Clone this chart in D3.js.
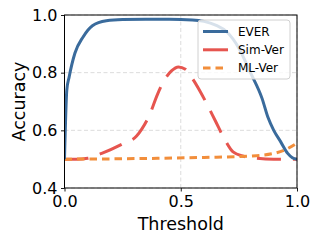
<!DOCTYPE html>
<html>
<head>
<meta charset="utf-8">
<script src="https://cdn.jsdelivr.net/npm/d3@7"></script>
<style>
  body { margin: 0; background: #fff; }
  text { font-family: "DejaVu Sans", sans-serif; }
</style>
</head>
<body>
<div id="chart"></div>
<script>
const thresholds = [0, 0.01, 0.02, 0.045, 0.08, 0.12, 0.18, 0.25, 0.35, 0.45, 0.55, 0.6, 0.65, 0.7, 0.75, 0.8, 0.85, 0.875, 0.9, 0.93, 0.96, 0.98, 1.0];
const everVals = [0.5, 0.74, 0.785, 0.868, 0.924, 0.963, 0.98, 0.984, 0.985, 0.985, 0.983, 0.978, 0.965, 0.94, 0.885, 0.80, 0.71, 0.645, 0.60, 0.56, 0.52, 0.505, 0.5];

const simX = [0, 0.05, 0.1, 0.16, 0.25, 0.31, 0.333, 0.364, 0.4, 0.43, 0.46, 0.49, 0.52, 0.55, 0.58, 0.61, 0.647, 0.69, 0.725, 0.77, 0.82, 0.9, 1.0];
const simVals = [0.5, 0.5, 0.503, 0.52, 0.553, 0.58, 0.605, 0.65, 0.725, 0.775, 0.806, 0.82, 0.812, 0.78, 0.74, 0.695, 0.636, 0.567, 0.525, 0.51, 0.504, 0.5, 0.5];

const mlX = [0, 0.2, 0.4, 0.6, 0.8, 0.9, 0.95, 1.0];
const mlVals = [0.5, 0.501, 0.503, 0.506, 0.511, 0.52, 0.533, 0.556];

const xTicks = [0, 0.5, 1.0];
const yTicks = [0.4, 0.6, 0.8, 1.0];

const series = [
  {name: "Sim-Ver", xs: simX, ys: simVals, color: "#e6554f", dash: "24,12"},
  {name: "ML-Ver", xs: mlX, ys: mlVals, color: "#f28e3b", dash: "7.5,5"},
  {name: "EVER", xs: thresholds, ys: everVals, color: "#3a6b9c", dash: null}
];
const legendOrder = ["EVER", "Sim-Ver", "ML-Ver"];

const W = 319, H = 241;
const margin = {top: 15, right: 22, bottom: 53, left: 64.5};
const width = W - margin.left - margin.right;
const height = H - margin.top - margin.bottom;

const svg = d3.select("#chart").append("svg")
  .attr("width", W).attr("height", H);
const g = svg.append("g")
  .attr("transform", `translate(${margin.left},${margin.top})`);

const x = d3.scaleLinear().domain([0, 1]).range([0, width]);
const y = d3.scaleLinear().domain([0.4, 1.0]).range([height, 0]);

// grid
g.append("g").selectAll("line").data(xTicks).enter().append("line")
  .attr("x1", d => x(d)).attr("x2", d => x(d))
  .attr("y1", 0).attr("y2", height)
  .attr("stroke", "#dcdcdc").attr("stroke-width", 1).attr("stroke-dasharray", "4,2.5");
g.append("g").selectAll("line").data(yTicks).enter().append("line")
  .attr("y1", d => y(d)).attr("y2", d => y(d))
  .attr("x1", 0).attr("x2", width)
  .attr("stroke", "#dcdcdc").attr("stroke-width", 1).attr("stroke-dasharray", "4,2.5");

svg.append("defs").append("clipPath").attr("id", "clip")
  .append("rect").attr("width", width).attr("height", height);

const line = d3.line().curve(d3.curveMonotoneX);
const plot = g.append("g").attr("clip-path", "url(#clip)");
series.forEach(s => {
  const pts = s.xs.map((t, i) => [x(t), y(s.ys[i])]);
  plot.append("path")
    .attr("d", line(pts))
    .attr("fill", "none")
    .attr("stroke", s.color)
    .attr("stroke-width", 3)
    .attr("stroke-dasharray", s.dash);
});

// axes
const xAxis = g.append("g").attr("transform", `translate(0,${height})`)
  .call(d3.axisBottom(x).tickValues(xTicks).tickFormat(d3.format(".1f")).tickSizeOuter(0).tickSize(3.5).tickPadding(4));
const yAxis = g.append("g")
  .call(d3.axisLeft(y).tickValues(yTicks).tickFormat(d3.format(".1f")).tickSizeOuter(0).tickSize(3.5).tickPadding(3.5));
[xAxis, yAxis].forEach(a => {
  a.select(".domain").remove();
  a.selectAll("text").attr("font-size", 16).attr("fill", "#000")
    .style("font-family", "DejaVu Sans, sans-serif");
  a.selectAll("line").attr("stroke", "#000").attr("stroke-width", 0.9);
});
xAxis.selectAll("text").attr("dy", "0.71em");

g.append("rect").attr("width", width).attr("height", height)
  .attr("fill", "none").attr("stroke", "#000").attr("stroke-width", 1);

// labels
svg.append("text").attr("x", margin.left + width / 2).attr("y", 230)
  .attr("text-anchor", "middle").attr("font-size", 17.5).text("Threshold");
svg.append("text")
  .attr("transform", `translate(25,${margin.top + height / 2}) rotate(-90)`)
  .attr("text-anchor", "middle").attr("font-size", 17.5).text("Accuracy");

// legend
const lg = svg.append("g").attr("transform", "translate(198,20)");
lg.append("rect").attr("width", 92).attr("height", 59).attr("rx", 3)
  .attr("fill", "#fff").attr("fill-opacity", 0.8)
  .attr("stroke", "#d0d0d0").attr("stroke-width", 1);
legendOrder.forEach((name, i) => {
  const s = series.find(d => d.name === name);
  const cy = 11.5 + i * 18.3;
  lg.append("line").attr("x1", 5).attr("x2", 30).attr("y1", cy).attr("y2", cy)
    .attr("stroke", s.color).attr("stroke-width", 3)
    .attr("stroke-dasharray", s.name === "ML-Ver" ? "7.5,5" : null);
  lg.append("text").attr("x", 40).attr("y", cy).attr("dy", "0.36em")
    .attr("font-size", 12).text(name);
});
</script>
</body>
</html>
